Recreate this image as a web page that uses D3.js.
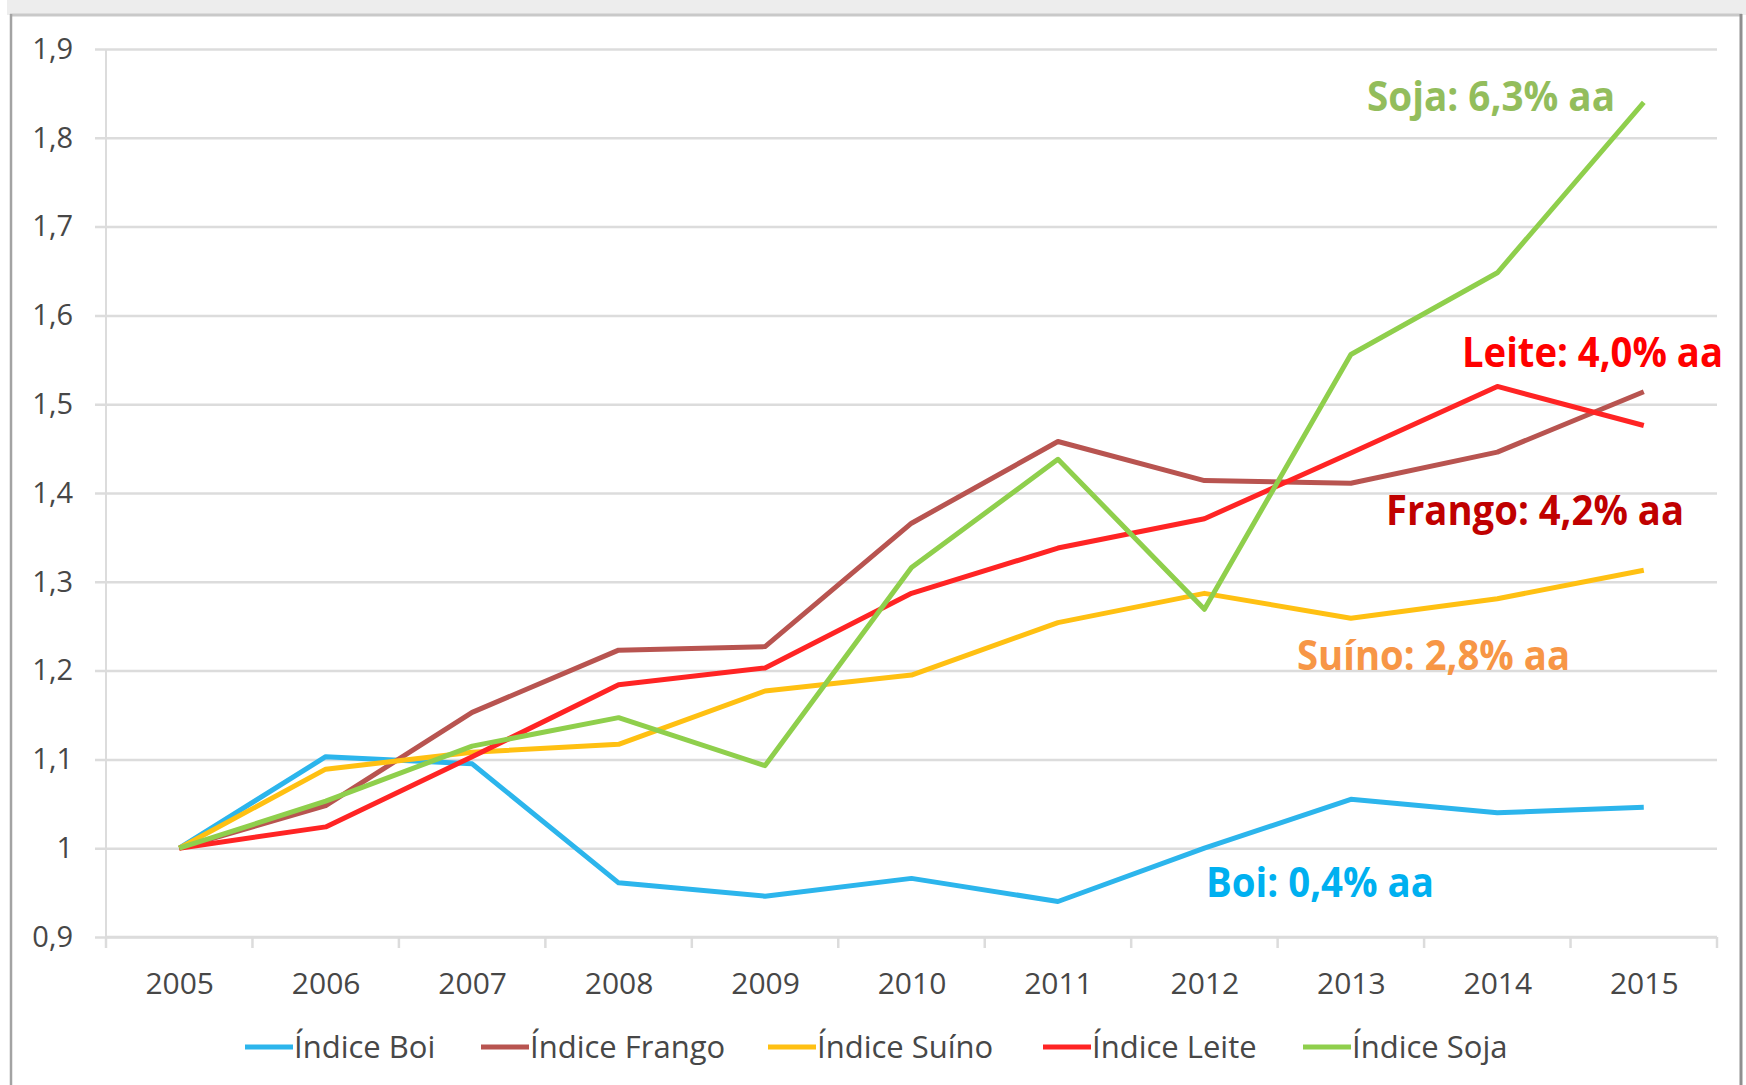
<!DOCTYPE html>
<html>
<head>
<meta charset="utf-8">
<script src="https://cdn.jsdelivr.net/npm/d3@7"></script>
<style>
  body { margin: 0; background: #fff; }
  svg { display: block; }
  text { font-family: "Open Sans", "DejaVu Sans", sans-serif; }
</style>
</head>
<body>
<div id="chart"></div>
<script>
var years = ["2005", "2006", "2007", "2008", "2009", "2010", "2011", "2012", "2013", "2014", "2015"];
var yTicks = [0.9, 1, 1.1, 1.2, 1.3, 1.4, 1.5, 1.6, 1.7, 1.8, 1.9];

var boi    = [1.0, 1.103, 1.095, 0.961, 0.946, 0.966, 0.940, 1.0, 1.055, 1.040, 1.046];
var frango = [1.0, 1.048, 1.153, 1.223, 1.227, 1.366, 1.458, 1.414, 1.411, 1.446, 1.514];
var suino  = [1.0, 1.089, 1.108, 1.117, 1.177, 1.195, 1.254, 1.287, 1.259, 1.281, 1.313];
var leite  = [1.0, 1.024, 1.103, 1.184, 1.203, 1.287, 1.338, 1.371, 1.445, 1.520, 1.476];
var soja   = [1.0, 1.053, 1.115, 1.147, 1.093, 1.316, 1.438, 1.269, 1.556, 1.648, 1.840];

var seriesNames = ["Índice Boi", "Índice Frango", "Índice Suíno", "Índice Leite", "Índice Soja"];
var seriesColors = ["#2cb5ec", "#b85450", "#ffc012", "#ff2424", "#8fcf4c"];

var notes = ["Soja: 6,3% aa", "Leite: 4,0% aa", "Frango: 4,2% aa", "Suíno: 2,8% aa", "Boi: 0,4% aa"];
var noteColors = ["#93bd5c", "#ff0000", "#c00000", "#f79646", "#00b0f0"];

var W = 1746, H = 1085;
var margin = {top: 49, right: 29, bottom: 148, left: 106};
var width = W - margin.left - margin.right;
var height = H - margin.top - margin.bottom;

var svg = d3.select("#chart").append("svg")
    .attr("width", W)
    .attr("height", H);

// frame
svg.append("rect").attr("x", 7).attr("y", 0).attr("width", W - 7).attr("height", 15).attr("fill", "#ededed");
svg.append("line").attr("x1", 10).attr("x2", 1742).attr("y1", 15).attr("y2", 15)
    .attr("stroke", "#c9c9c9").attr("stroke-width", 3);
svg.append("line").attr("x1", 11).attr("x2", 11).attr("y1", 14).attr("y2", H)
    .attr("stroke", "#a3a3a3").attr("stroke-width", 2.5);
svg.append("line").attr("x1", 1741).attr("x2", 1741).attr("y1", 14).attr("y2", H)
    .attr("stroke", "#8f8f8f").attr("stroke-width", 3);

var g = svg.append("g")
    .attr("transform", "translate(" + margin.left + "," + margin.top + ")");

var xScale = d3.scalePoint()
    .domain(years)
    .range([0, width])
    .padding(0.5);

var xBand = d3.scaleBand()
    .domain(years)
    .range([0, width]);

var yScale = d3.scaleLinear()
    .domain([0.9, 1.9])
    .range([height, 0]);

var fmt = function (d) { return d3.format(".1~f")(d).replace(".", ","); };

// y axis + gridlines
var yAxis = d3.axisLeft(yScale)
    .tickValues(yTicks)
    .tickSize(-width - 11)
    .tickPadding(22)
    .tickFormat(fmt);

var gY = g.append("g")
    .attr("class", "y axis")
    .attr("transform", "translate(-11,0)")
    .call(yAxis);
gY.select("path.domain").remove();
gY.selectAll(".tick line")
    .attr("stroke", "#dcdcdc")
    .attr("stroke-width", 2.5);
gY.selectAll(".tick text")
    .attr("fill", "#474747")
    .style("font-size", "29px")
    .style("font-weight", "500");

g.append("line")
    .attr("x1", 0).attr("x2", 0)
    .attr("y1", 0).attr("y2", height)
    .attr("stroke", "#dcdcdc").attr("stroke-width", 2);

// x axis
var xAxis = d3.axisBottom(xScale)
    .tickSize(0)
    .tickPadding(36);

var gX = g.append("g")
    .attr("class", "x axis")
    .attr("transform", "translate(0," + height + ")")
    .call(xAxis);
gX.select("path.domain").remove();
gX.selectAll(".tick text")
    .attr("fill", "#474747")
    .style("font-size", "30px")
    .style("font-weight", "500");

g.append("line")
    .attr("x1", 0).attr("x2", width)
    .attr("y1", height).attr("y2", height)
    .attr("stroke", "#dcdcdc").attr("stroke-width", 2.5);

var bounds = years.map(function (d) { return xBand(d); }).concat([width]);
g.selectAll(".xtick")
    .data(bounds)
    .enter().append("line")
    .attr("class", "xtick")
    .attr("x1", function (d) { return d; })
    .attr("x2", function (d) { return d; })
    .attr("y1", height)
    .attr("y2", height + 11)
    .attr("stroke", "#dcdcdc").attr("stroke-width", 2.5);

// lines
var allSeries = [boi, frango, suino, leite, soja];

var line = d3.line()
    .x(function (d, i) { return xScale(years[i]); })
    .y(function (d) { return yScale(d); });

g.selectAll(".series")
    .data(allSeries)
    .enter().append("path")
    .attr("class", "series")
    .attr("d", line)
    .attr("fill", "none")
    .attr("stroke", function (d, i) { return seriesColors[i]; })
    .attr("stroke-width", 5)
    .attr("stroke-linejoin", "round");

// annotations
var notePos = [
    {x: 1367, y: 111},
    {x: 1462, y: 367},
    {x: 1386, y: 525},
    {x: 1297, y: 670},
    {x: 1206, y: 897}
];
var noteW = [248, 261, 298, 273, 228];

svg.selectAll(".note")
    .data(notes)
    .enter().append("text")
    .attr("class", "note")
    .attr("x", function (d, i) { return notePos[i].x; })
    .attr("y", function (d, i) { return notePos[i].y; })
    .attr("fill", function (d, i) { return noteColors[i]; })
    .attr("textLength", function (d, i) { return noteW[i]; })
    .attr("lengthAdjust", "spacingAndGlyphs")
    .style("font-size", "41px")
    .style("font-weight", "bold")
    .text(function (d) { return d; });

// legend
var legendX = [245, 481, 768, 1043, 1303];
var legend = svg.selectAll(".legend")
    .data(seriesNames)
    .enter().append("g")
    .attr("class", "legend")
    .attr("transform", function (d, i) { return "translate(" + legendX[i] + ",1047)"; });

legend.append("line")
    .attr("x1", 0).attr("x2", 48)
    .attr("y1", 0).attr("y2", 0)
    .attr("stroke", function (d, i) { return seriesColors[i]; })
    .attr("stroke-width", 5);

legend.append("text")
    .attr("x", 49)
    .attr("y", 11)
    .attr("fill", "#474747")
    .style("font-size", "31px")
    .style("font-weight", "500")
    .text(function (d) { return d; });
</script>
</body>
</html>
